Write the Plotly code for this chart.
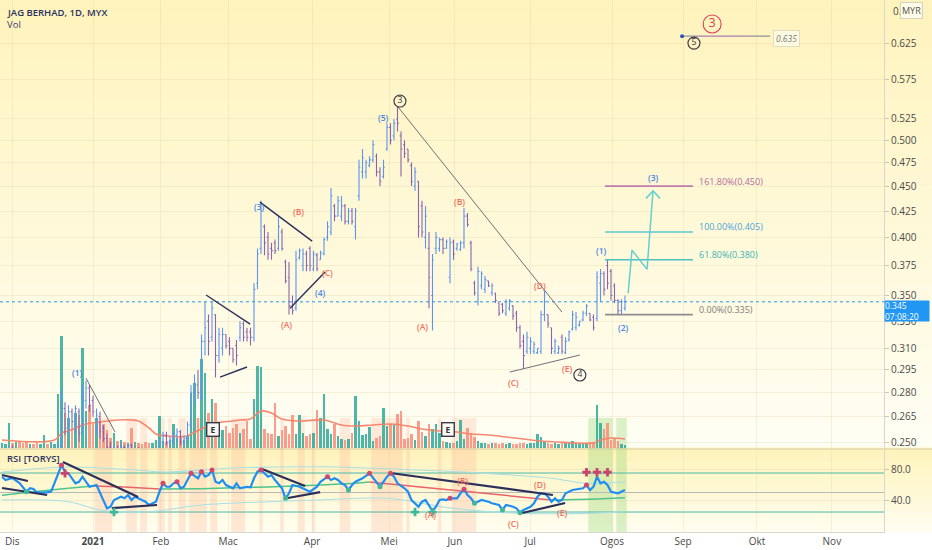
import math
import plotly.graph_objects as go

FONT = "Open Sans"

# ---------------- data ----------------
month_labels = ["Dis", "<b>2021</b>", "Feb", "Mac", "Apr", "Mei", "Jun", "Jul", "Ogos", "Sep", "Okt", "Nov"]
month_pos = [2.9, 26.0, 45.4, 64.6, 88.6, 110.6, 129.4, 150.9, 174.3, 194.6, 215.7, 237.1]
price_ticks = [0.250, 0.265, 0.280, 0.295, 0.310, 0.330, 0.350, 0.375, 0.400, 0.425,
               0.450, 0.475, 0.500, 0.525, 0.575, 0.625]
rsi_ticks = [40, 80]
rsi_tick_text = ["40.0", "80.0"]

bar_open = [
    .235, .238, .240, .245, .242, .243, .241, .238, .235, .238,
    .236, .234, .235, .238, .237, .238, .243, .248, .270, .258,
    .268, .260, .268, .260, .275, .283, .275, .258, .265, .258,
    .252, .247, .242, .246, .244, .247, .245, .248, .243, .246,
    .244, .243, .241, .239, .241, .243, .250, .254, .250, .251,
    .254, .256, .250, .252, .260, .280, .285, .282, .315, .330,
    .318, .335, .305, .310, .320, .315, .310, .312, .318, .328,
    .322, .322, .318, .360, .390, .410, .400, .390, .395, .390,
    .405, .378, .365, .345, .340, .382, .375, .385, .390, .372,
    .384, .380, .385, .400, .405, .430, .420, .420, .430, .415,
    .425, .410, .440, .465, .465, .472, .478, .482, .465, .460,
    .490, .515, .505, .525, .505, .495, .490, .472, .450, .455,
    .430, .400, .390, .350, .390, .390, .398, .390, .365, .396,
    .390, .389, .395, .420, .395, .360, .345, .358, .355, .362,
    .352, .352, .344, .343, .336, .340, .342, .336, .325, .315,
    .308, .310, .308, .307, .308, .335, .335, .325, .308, .307,
    .318, .307, .316, .324, .325, .327, .331, .336, .336, .333,
    .332, .360, .368, .375, .370, .358, .346, .338, .340]
bar_high = [
    .240, .242, .248, .248, .245, .246, .243, .240, .240, .240,
    .238, .237, .240, .240, .240, .245, .250, .282, .274, .272,
    .270, .272, .270, .285, .288, .285, .278, .270, .268, .260,
    .255, .250, .248, .248, .249, .248, .249, .249, .247, .247,
    .246, .245, .243, .242, .244, .252, .256, .256, .253, .256,
    .258, .257, .254, .262, .285, .292, .295, .320, .345, .335,
    .345, .335, .325, .325, .320, .318, .310, .316, .330, .330,
    .325, .325, .360, .390, .435, .412, .405, .395, .398, .420,
    .408, .380, .378, .350, .388, .390, .390, .388, .392, .388,
    .386, .388, .400, .415, .448, .432, .440, .440, .432, .428,
    .428, .428, .478, .490, .478, .482, .500, .485, .470, .478,
    .520, .520, .525, .540, .510, .500, .490, .475, .470, .455,
    .435, .430, .405, .385, .405, .400, .400, .398, .400, .398,
    .395, .397, .428, .423, .397, .362, .374, .370, .366, .362,
    .360, .352, .344, .344, .347, .347, .342, .338, .327, .320,
    .322, .318, .315, .310, .338, .355, .335, .325, .317, .312,
    .320, .318, .323, .338, .337, .330, .338, .343, .336, .335,
    .370, .372, .370, .380, .372, .360, .347, .347, .350]
bar_low = [
    .232, .235, .238, .240, .238, .240, .236, .233, .234, .235,
    .232, .232, .234, .235, .235, .237, .242, .245, .254, .255,
    .258, .255, .250, .255, .270, .268, .265, .254, .252, .250,
    .245, .240, .240, .242, .243, .243, .244, .242, .242, .243,
    .241, .240, .238, .238, .240, .242, .248, .248, .247, .249,
    .250, .248, .248, .250, .258, .272, .276, .275, .305, .305,
    .315, .290, .300, .305, .310, .305, .300, .298, .315, .315,
    .315, .312, .315, .355, .385, .384, .380, .380, .385, .388,
    .388, .360, .335, .335, .338, .380, .370, .370, .370, .370,
    .370, .380, .384, .397, .402, .415, .420, .415, .412, .412,
    .412, .398, .435, .458, .458, .470, .475, .460, .450, .458,
    .488, .495, .500, .510, .460, .480, .475, .450, .445, .400,
    .400, .390, .340, .323, .385, .387, .385, .390, .360, .380,
    .388, .388, .390, .410, .370, .350, .342, .355, .352, .357,
    .350, .344, .334, .336, .334, .338, .331, .322, .310, .296,
    .306, .306, .306, .306, .306, .330, .325, .306, .306, .306,
    .306, .306, .315, .323, .323, .326, .330, .334, .330, .323,
    .330, .345, .350, .355, .346, .344, .335, .335, .338]
bar_close = [
    .238, .240, .245, .242, .243, .241, .238, .235, .238, .236,
    .234, .235, .238, .237, .238, .243, .248, .268, .258, .268,
    .262, .270, .255, .280, .283, .272, .268, .266, .256, .252,
    .247, .242, .246, .244, .247, .245, .248, .243, .246, .244,
    .243, .241, .239, .241, .243, .250, .254, .250, .251, .254,
    .256, .250, .252, .260, .280, .285, .280, .315, .325, .315,
    .340, .305, .320, .320, .312, .310, .302, .305, .325, .318,
    .318, .318, .355, .385, .425, .395, .385, .388, .388, .410,
    .390, .362, .342, .338, .380, .388, .385, .375, .375, .385,
    .372, .386, .398, .410, .440, .420, .435, .430, .415, .425,
    .415, .425, .470, .480, .475, .478, .495, .465, .455, .470,
    .515, .500, .520, .520, .490, .485, .478, .455, .465, .410,
    .405, .420, .365, .380, .400, .398, .390, .396, .395, .385,
    .394, .395, .420, .412, .372, .352, .370, .368, .363, .358,
    .358, .346, .336, .338, .345, .346, .334, .325, .312, .305,
    .318, .315, .313, .310, .335, .345, .328, .310, .315, .310,
    .308, .315, .322, .335, .333, .330, .336, .342, .331, .325,
    .365, .368, .355, .360, .350, .346, .338, .345, .345]
# volume, millions of shares
volume_m = [
    0.5, 0.4, 2.5, 0.5, 0.6, 0.7, 0.5, 0.6, 0.4, 0.4,
    0.5, 0.4, 1.3, 0.4, 0.6, 0.4, 5.4, 11.2, 3.5, 3.0,
    2.0, 3.5, 3.3, 10.0, 3.7, 4.3, 2.4, 3.0, 2.7, 2.4,
    1.8, 1.0, 1.5, 0.7, 0.8, 0.6, 0.5, 2.0, 0.6, 0.5,
    0.4, 0.6, 0.5, 0.5, 0.8, 3.2, 0.7, 0.6, 0.8, 2.4,
    1.0, 1.2, 0.8, 1.2, 5.5, 6.5, 3.0, 8.9, 7.5, 3.5,
    4.9, 4.5, 2.5, 1.8, 2.2, 1.5, 2.0, 2.4, 1.5, 1.9,
    2.7, 0.9, 4.9, 8.2, 8.1, 1.9, 1.5, 1.4, 4.5, 1.2,
    1.8, 2.2, 1.4, 3.3, 1.4, 3.3, 1.5, 1.2, 1.4, 1.5,
    3.8, 3.0, 5.4, 1.9, 1.4, 2.4, 1.2, 0.9, 0.8, 0.9,
    1.5, 5.2, 2.7, 1.3, 1.4, 2.1, 0.7, 1.0, 1.2, 4.0,
    2.2, 2.4, 2.4, 3.4, 3.7, 0.9, 1.0, 1.4, 0.8, 2.7,
    1.6, 1.2, 2.4, 1.9, 2.4, 1.5, 0.7, 0.6, 0.5, 0.5,
    0.7, 2.8, 0.9, 2.0, 1.5, 1.1, 0.7, 0.5, 0.5, 0.4,
    0.5, 0.5, 0.4, 0.5, 0.4, 0.5, 0.4, 0.4, 0.5, 0.5,
    0.4, 0.5, 0.5, 1.4, 1.1, 0.6, 0.5, 0.4, 0.5, 0.4,
    0.5, 0.5, 0.6, 0.7, 0.5, 0.4, 0.5, 0.5, 0.6, 0.6,
    4.3, 2.5, 1.9, 2.5, 0.8, 1.0, 0.7, 0.4, 0.3]
vol_ma_idx = [0, 15, 17, 19, 24, 28, 33, 37, 39, 42, 44, 47, 53, 54, 57, 61, 66, 68, 71, 74,
              77, 80, 85, 92, 97, 101, 106, 111, 116, 120, 125, 130, 134, 139, 144, 149, 154,
              159, 164, 169, 171, 174, 178]
vol_ma_val = [0.8, 0.8, 1.5, 1.7, 2.4, 2.6, 2.8, 2.8, 2.7, 2.0, 1.4, 1.2, 1.2, 1.4, 1.9, 2.5,
              2.7, 2.8, 2.9, 3.7, 3.5, 2.9, 2.7, 2.8, 2.3, 2.2, 2.3, 2.4, 2.2, 1.9, 1.7, 1.6,
              1.4, 1.3, 1.1, 0.9, 0.7, 0.6, 0.5, 0.5, 0.8, 1.0, 0.9]
last_price = 0.345

rsi_idx = [0, 1, 3, 5, 7, 8, 9, 10, 12, 14, 15, 16, 17, 18, 19, 20, 21, 22, 23, 24, 25, 27, 28,
           29, 30, 31, 32, 34, 35, 36, 37, 38, 39, 41, 42, 43, 44, 45, 46, 47, 48, 49, 50, 51,
           52, 53, 54, 56, 57, 58, 59, 60, 61, 62, 63, 64, 65, 66, 67, 68, 70, 71, 72, 73, 74,
           75, 76, 77, 78, 80, 81, 82, 83, 85, 86, 87, 88, 90, 91, 93, 94, 95, 96, 97, 98, 99,
           100, 101, 103, 105, 107, 108, 109, 110, 111, 112, 113, 115, 116, 117, 119, 120, 121,
           122, 123, 124, 125, 126, 127, 128, 130, 131, 132, 133, 134, 135, 136, 137, 139, 140,
           142, 143, 144, 146, 147, 148, 149, 151, 152, 153, 154, 155, 156, 157, 158, 159, 160,
           161, 163, 164, 166, 167, 168, 169, 170, 171, 172, 173, 174, 176, 177, 178]
rsi_val = [70.3, 66, 68.6, 62, 51, 55.6, 54.5, 49.8, 49.8, 51, 62, 74.6, 85, 76.7, 74.6, 68,
           61.8, 63.8, 70.3, 63.8, 57.4, 59.6, 49, 38.2, 29.7, 31.8, 40.4, 44.6, 42.6, 46.8,
           40.4, 44.6, 42.6, 38.2, 34, 36.2, 38.2, 51, 61.8, 57.4, 57.4, 61.8, 63.8, 55.4, 57.4,
           66, 74.6, 68.2, 76.7, 70.3, 72.4, 78.8, 63.8, 61.8, 66, 59.6, 57.4, 55.4, 61.8, 55.4,
           57.4, 56.7, 68.2, 76.7, 78.8, 74.6, 70.3, 72.4, 66, 55.4, 42.6, 49, 59.6, 57.4, 55.4,
           53.2, 51, 57.4, 63.8, 70.3, 66, 68.2, 66, 61.8, 59.6, 53.2, 59.6, 63.8, 68.2, 74.6,
           63.8, 57.4, 63.8, 70.3, 74.6, 70.3, 61.8, 55.4, 51, 40.4, 31.8, 38.2, 40.4, 34, 26.3,
           31.8, 40.4, 41.2, 40.4, 42.6, 42.6, 49, 54.1, 46.8, 42.6, 36.2, 38.2, 40.4, 38.2, 36.2,
           34, 27.6, 34, 31.8, 29.7, 24.1, 27.6, 31.8, 36.2, 44.6, 49, 49, 44.6, 38.2, 42.6, 38.2,
           40.4, 49, 53.2, 54.1, 55.4, 59.6, 53.2, 57.4, 70.3, 61.8, 63.8, 59.6, 51, 49, 51, 53.2]
rsi_ma_idx = [0, 9, 19, 26, 35, 45, 57, 66, 76, 91, 101, 105, 129, 157, 168, 178]
rsi_ma_val = [46.5, 51, 55.5, 58.3, 57, 54.5, 54.8, 56, 57, 59.6, 62, 63.5, 53, 40.4, 41.5, 43.3]
rsi_up_idx = [0, 19, 38, 47, 66, 91, 119, 138, 157, 167, 178]
rsi_up_val = [76.3, 82.7, 78.8, 76.3, 81.4, 83.0, 78.8, 74.6, 68.2, 61.8, 63.8]
rsi_lo_idx = [0, 19, 28, 42, 57, 76, 91, 110, 129, 148, 167, 178]
rsi_lo_val = [40.4, 38.2, 27.6, 25.4, 34.0, 38.2, 40.4, 42.6, 29.7, 23.3, 23.3, 25.4]
rsi_peak_idx = [17, 46, 50, 54, 57, 60, 74, 93, 105, 111, 128, 132, 167]
rsi_trough_idx = [7, 81, 99, 108, 135, 143, 148]
rsi_buy_idx = [32, 118, 123]
rsi_sell_idx = [18, 167, 170, 173]
rsi_sell_val = [74.6, 76, 76, 76]
shade_pink = [(27, 28), (29, 31), (36, 38), (40, 41), (45, 46), (48, 48), (51, 52), (54, 56),
              (57, 58), (60, 61), (66, 67), (68, 69), (74, 74), (80, 80), (85, 86), (89, 89),
              (97, 99), (106, 110), (111, 114), (116, 116), (125, 125), (129, 131), (132, 135)]
shade_green = [(168, 174), (176, 178)]

fib_levels = [0.450, 0.405, 0.380, 0.335]
fib_names = ["161.80%(0.450)", "100.00%(0.405)", "61.80%(0.380)", "0.00%(0.335)"]

# drawing tools (bar index, price)
navy_lines = [((58.3, 0.3504), (70.9, 0.3278)), ((62.3, 0.2902), (70.0, 0.2970)),
              ((73.7, 0.4338), (88.6, 0.3966)), ((82.3, 0.3400), (92.3, 0.3694))]
grey_lines = [((24.0, 0.2895), (32.3, 0.2558)), ((113.0, 0.5405), (160.0, 0.3369)),
              ((145.1, 0.2936), (165.1, 0.3053))]
proj_x = [178.9, 180.0, 184.3, 186.0]
proj_y = [0.3518, 0.3885, 0.3717, 0.4452]
arrow_x = [184.0, 186.0, 188.0]
arrow_y = [0.4375, 0.4452, 0.4375]
rsi_trend = [((0, 72.4), (7.4, 64.7)), ((0, 55.8), (12.9, 46.8)), ((17.4, 89.1), (38.9, 44.2)),
             ((31.4, 30.1), (44.3, 34.0)), ((74.3, 80.1), (86.6, 58.3)), ((81.7, 43.0), (90.9, 50.6)),
             ((110.9, 75.0), (157.4, 46.8)), ((148.6, 23.7), (160.9, 36.5))]
BLUE_W = "#4a86e8"
RED_W = "#f0705f"
wave_labels = [(21.7, 0.2936, "(1)", BLUE_W), (73.7, 0.4298, "(3)", BLUE_W), (90.9, 0.3528, "(4)", BLUE_W),
               (108.9, 0.5273, "(5)", BLUE_W), (81.4, 0.3278, "(A)", RED_W), (84.6, 0.4249, "(B)", RED_W),
               (92.9, 0.3694, "(C)", RED_W), (120.0, 0.3263, "(A)", RED_W), (130.6, 0.4348, "(B)", RED_W),
               (146.0, 0.2869, "(C)", RED_W), (153.7, 0.3585, "(D)", RED_W), (161.4, 0.2963, "(E)", RED_W),
               (171.4, 0.3885, "(1)", BLUE_W), (177.7, 0.3255, "(2)", BLUE_W), (186.0, 0.4595, "(3)", BLUE_W)]
rsi_labels = [(122.3, 21.2, "(A)"), (131.7, 66.0, "(B)"), (146.0, 10.9, "(C)"), (153.7, 60.9, "(D)"),
              (160.0, 25.0, "(E)")]
circle_labels = [(113.7, 0.5471, "3"), (165.1, 0.2916, "4"), (197.7, 0.625, "5")]

# ---------------- layout geometry ----------------
PLOT_W, PLOT_H = 884, 532


def py(px):
    return (PLOT_H - px) / PLOT_H


x_range = [-0.571, 252.0]
price_range = [math.log10(0.2466), math.log10(0.690)]
idx = list(range(len(bar_open)))

fig = go.Figure()

# volume (base axis of price pane)
vol_colors = ["rgba(45,170,150,0.85)" if c >= o else "rgba(250,140,120,0.85)"
              for o, c in zip(bar_open, bar_close)]
fig.add_trace(go.Bar(x=idx, y=volume_m, marker=dict(color=vol_colors, line=dict(width=0)),
                     width=0.72, xaxis="x", yaxis="y", hoverinfo="skip"))
fig.add_trace(go.Scatter(x=vol_ma_idx, y=vol_ma_val, mode="lines", xaxis="x", yaxis="y",
                         line=dict(color="rgba(247,130,105,0.95)", width=1.6, shape="spline"),
                         hoverinfo="skip"))

# price bars
fig.add_trace(go.Ohlc(x=idx, open=bar_open, high=bar_high, low=bar_low, close=bar_close,
                      xaxis="x", yaxis="y3", tickwidth=0.38,
                      increasing=dict(line=dict(color="#5b95ee", width=1.1)),
                      decreasing=dict(line=dict(color="#8a64ae", width=1.1)),
                      hoverinfo="skip"))

# current price line
fig.add_trace(go.Scatter(x=x_range, y=[last_price, last_price], mode="lines", xaxis="x", yaxis="y3",
                         line=dict(color="#2196f3", width=1, dash="dot"), hoverinfo="skip"))


def seg(p, q, color, width, ax="y3", dash=None):
    fig.add_trace(go.Scatter(x=[p[0], q[0]], y=[p[1], q[1]], mode="lines", xaxis="x" if ax == "y3" else "x2",
                             yaxis=ax, line=dict(color=color, width=width, dash=dash), hoverinfo="skip"))


for p, q in navy_lines:
    seg(p, q, "#2b2f5c", 1.4)
for p, q in grey_lines:
    seg(p, q, "#6f6f78", 1.0)

# fib levels
fib_line_colors = ["#c07cae", "#5cc6cf", "#4fbfbf", "#8d8d8d"]
fib_text_colors = ["#b36aa0", "#4aa3d8", "#39b3b3", "#7d7d7d"]
for lev, col in zip(fib_levels, fib_line_colors):
    seg((172.3, lev), (197.4, lev), col, 1.6)

# projection path
fig.add_trace(go.Scatter(x=proj_x, y=proj_y, mode="lines", xaxis="x", yaxis="y3",
                         line=dict(color="#63d0d0", width=1.5), hoverinfo="skip"))
fig.add_trace(go.Scatter(x=arrow_x, y=arrow_y, mode="lines", xaxis="x", yaxis="y3",
                         line=dict(color="#63d0d0", width=1.5), hoverinfo="skip"))

# top wave (5) line
seg((194.3, 0.635), (219.5, 0.635), "#8f8f98", 1.2)
seg((198.6, 0.6345), (213.0, 0.6345), "#c993bf", 1.2)
fig.add_trace(go.Scatter(x=[194.3], y=[0.635], mode="markers", xaxis="x", yaxis="y3",
                         marker=dict(color="#3050c0", size=4), hoverinfo="skip"))

# circled wave labels
for cx, cp, t in circle_labels:
    fig.add_trace(go.Scatter(x=[cx], y=[cp], mode="markers+text", xaxis="x", yaxis="y3", text=[t],
                             textposition="middle center",
                             textfont=dict(family=FONT, size=8.5, color="#333344"),
                             marker=dict(symbol="circle", size=12, color="rgba(255,255,255,0)",
                                         line=dict(color="#333344", width=1.1)), hoverinfo="skip"))
fig.add_trace(go.Scatter(x=[202.9], y=[0.6529], mode="markers+text", xaxis="x", yaxis="y3", text=["3"],
                         textposition="middle center",
                         textfont=dict(family=FONT, size=12.5, color="#d8415f"),
                         marker=dict(symbol="circle", size=18, color="rgba(255,255,255,0)",
                                     line=dict(color="#d8415f", width=1.1)), hoverinfo="skip"))

# ---------------- RSI pane ----------------
for lvl, col in [(75, "#49b9ad"), (25, "#49b9ad"), (50, "#b9b9b9")]:
    seg((x_range[0], lvl), (x_range[1], lvl), col, 1.0, ax="y2")
fig.add_trace(go.Scatter(x=rsi_up_idx, y=rsi_up_val, mode="lines", xaxis="x2", yaxis="y2",
                         line=dict(color="#a9dfe6", width=1.1, shape="spline"), hoverinfo="skip"))
fig.add_trace(go.Scatter(x=rsi_lo_idx, y=rsi_lo_val, mode="lines", xaxis="x2", yaxis="y2",
                         line=dict(color="#a9dfe6", width=1.1, shape="spline"), hoverinfo="skip"))
gx, gy, rx, ry = [], [], [], []
for k in range(len(rsi_ma_idx) - 1):
    xs = [rsi_ma_idx[k], rsi_ma_idx[k + 1], None]
    ys = [rsi_ma_val[k], rsi_ma_val[k + 1], None]
    if rsi_ma_val[k + 1] < rsi_ma_val[k]:
        rx += xs
        ry += ys
    else:
        gx += xs
        gy += ys
fig.add_trace(go.Scatter(x=gx, y=gy, mode="lines", xaxis="x2", yaxis="y2",
                         line=dict(color="#4cc48a", width=1.5), hoverinfo="skip"))
fig.add_trace(go.Scatter(x=rx, y=ry, mode="lines", xaxis="x2", yaxis="y2",
                         line=dict(color="#e8636b", width=1.5), hoverinfo="skip"))
fig.add_trace(go.Scatter(x=rsi_idx, y=rsi_val, mode="lines", xaxis="x2", yaxis="y2",
                         line=dict(color="#1e8ff0", width=2.2), hoverinfo="skip"))
for p, q in rsi_trend:
    seg(p, q, "#2b2f5c", 2.2, ax="y2")
rsi_map = dict(zip(rsi_idx, rsi_val))
fig.add_trace(go.Scatter(x=rsi_peak_idx, y=[rsi_map[i] for i in rsi_peak_idx], mode="markers",
                         xaxis="x2", yaxis="y2", marker=dict(color="#d2476e", size=5), hoverinfo="skip"))
fig.add_trace(go.Scatter(x=rsi_trough_idx, y=[rsi_map[i] for i in rsi_trough_idx], mode="markers",
                         xaxis="x2", yaxis="y2", marker=dict(color="#3fb89a", size=5), hoverinfo="skip"))
fig.add_trace(go.Scatter(x=rsi_buy_idx, y=[25] * len(rsi_buy_idx), mode="markers", xaxis="x2", yaxis="y2",
                         marker=dict(symbol="cross", color="#3fb89a", size=7, line=dict(width=0)),
                         hoverinfo="skip"))
fig.add_trace(go.Scatter(x=rsi_sell_idx, y=rsi_sell_val, mode="markers", xaxis="x2", yaxis="y2",
                         marker=dict(symbol="cross", color="#c8456e", size=7, line=dict(width=0)),
                         hoverinfo="skip"))

# ---------------- shapes (backgrounds) ----------------
shapes = []


def lerp(a, b, t):
    return tuple(round(a[j] + (b[j] - a[j]) * t) for j in range(3))


N = 36
top_c, bot_c = (255, 243, 188), (255, 254, 244)
for k in range(N):
    p0, p1 = 448 * k / N, 448 * (k + 1) / N
    c = lerp(top_c, bot_c, (k + 0.5) / N)
    shapes.append(dict(type="rect", xref="paper", yref="paper", x0=-0.01, x1=1.07, y0=py(p1), y1=py(p0) + 0.001,
                       fillcolor="rgb(%d,%d,%d)" % c, line=dict(width=0), layer="below"))
M = 12
top_r, bot_r = (255, 243, 186), (255, 253, 240)
for k in range(M):
    p0, p1 = 448 + 84 * k / M, 448 + 84 * (k + 1) / M
    c = lerp(top_r, bot_r, (k + 0.5) / M)
    shapes.append(dict(type="rect", xref="paper", yref="paper", x0=-0.01, x1=1.07, y0=py(p1), y1=py(p0) + 0.001,
                       fillcolor="rgb(%d,%d,%d)" % c, line=dict(width=0), layer="below"))
for a, b in shade_pink:
    shapes.append(dict(type="rect", xref="x2", yref="paper", x0=a - 0.5, x1=b + 0.5, y0=0, y1=py(418),
                       fillcolor="rgba(255,178,150,0.28)", line=dict(width=0), layer="below"))
for a, b in shade_green:
    shapes.append(dict(type="rect", xref="x2", yref="paper", x0=a - 0.5, x1=b + 0.5, y0=0, y1=py(418),
                       fillcolor="rgba(150,215,120,0.35)", line=dict(width=0), layer="below"))
shapes.append(dict(type="line", xref="paper", yref="paper", x0=0, x1=1.07, y0=py(449), y1=py(449),
                   line=dict(color="rgba(190,185,160,0.7)", width=1)))

# ---------------- annotations ----------------
ann = []
ann.append(dict(xref="paper", yref="paper", x=0.006, y=py(12), xanchor="left", yanchor="middle",
                text="JAG BERHAD, 1D, MYX", showarrow=False,
                font=dict(family=FONT, size=9.5, color="#2b3160", weight=600)))
ann.append(dict(xref="paper", yref="paper", x=0.006, y=py(24.5), xanchor="left", yanchor="middle",
                text="Vol", showarrow=False, font=dict(family=FONT, size=9.5, color="#3c4070")))
ann.append(dict(xref="paper", yref="paper", x=0.006, y=py(458), xanchor="left", yanchor="middle",
                text="RSI [TORYS]", showarrow=False,
                font=dict(family=FONT, size=9.5, color="#2b3160", weight=600)))
for wx, wp, t, col in wave_labels:
    ann.append(dict(xref="x", yref="y3", x=wx, y=math.log10(wp), text=t, showarrow=False,
                    font=dict(family=FONT, size=8.5, color=col, weight=600)))
for rx_, rv, t in rsi_labels:
    ann.append(dict(xref="x2", yref="y2", x=rx_, y=rv, text=t, showarrow=False,
                    font=dict(family=FONT, size=8.5, color=RED_W, weight=600)))
for lev, name, col in zip(fib_levels, fib_names, fib_text_colors):
    ann.append(dict(xref="x", yref="y3", x=198.6, y=math.log10(lev), xanchor="left", yanchor="middle",
                    yshift=5, text=name, showarrow=False, font=dict(family=FONT, size=9, color=col)))
ann.append(dict(xref="x", yref="y3", x=224.2, y=math.log10(0.632), text="<i>0.635</i>", showarrow=False,
                font=dict(family=FONT, size=8.5, color="#777777"), bordercolor="#e2dcc0", borderwidth=1,
                borderpad=2, bgcolor="rgba(255,255,250,0.6)"))
for ex in [60.3, 127.4]:
    ann.append(dict(xref="x", yref="paper", x=ex, y=py(437), text="E", showarrow=False,
                    font=dict(family=FONT, size=8.5, color="#333340", weight=700),
                    bgcolor="#fbfaf2", bordercolor="#3a3a4c", borderwidth=1.4, borderpad=1, width=9, height=10))
ann.append(dict(xref="paper", yref="y3", x=1.0, y=math.log10(0.3468), xanchor="left", yanchor="top",
                text="0.345<br>07:08:20", showarrow=False, align="left",
                font=dict(family=FONT, size=8.5, color="#ffffff"), bgcolor="#2196f3", borderpad=0,
                width=44, height=20))
ann.append(dict(xref="paper", yref="paper", x=1.008, y=py(11), xanchor="left", yanchor="middle",
                text="0.", showarrow=False, font=dict(family=FONT, size=10, color="#4a4a4a")))
ann.append(dict(xref="paper", yref="paper", x=1.031, y=py(10), xanchor="center", yanchor="middle",
                text="MYR", showarrow=False, font=dict(family=FONT, size=9, color="#555555"),
                bordercolor="#d6d2bf", borderwidth=1, borderpad=1, bgcolor="rgba(255,255,250,0.7)"))

grid_c = "rgba(205,195,150,0.22)"
fig.update_layout(
    width=932, height=550, margin=dict(l=0, r=48, t=0, b=18),
    paper_bgcolor="#ffffff", plot_bgcolor="rgba(0,0,0,0)", showlegend=False,
    font=dict(family=FONT, size=10, color="#4a4a4a"),
    shapes=shapes, annotations=ann, bargap=0,
    xaxis=dict(domain=[0, 1], anchor="y", range=x_range, tickvals=month_pos, showticklabels=False,
               showgrid=True, gridcolor=grid_c, zeroline=False, rangeslider=dict(visible=False),
               fixedrange=True),
    xaxis2=dict(domain=[0, 1], anchor="y2", range=x_range, matches="x", tickvals=month_pos,
                ticktext=month_labels, showgrid=True, gridcolor=grid_c, zeroline=False, ticks="",
                showline=True, linecolor="#d9d6cc", tickfont=dict(size=10, color="#4a4a4a"),
                rangeslider=dict(visible=False)),
    yaxis=dict(domain=[py(448), 1], anchor="x", range=[0, 44.8], visible=False, fixedrange=True),
    yaxis3=dict(overlaying="y", anchor="x", side="right", type="log", range=price_range,
                tickvals=price_ticks, ticktext=["%.3f" % v for v in price_ticks], showgrid=True,
                gridcolor=grid_c, zeroline=False, ticks="outside", ticklen=4, tickcolor="#c9c6b8",
                showline=True, linecolor="#d9d6cc", tickfont=dict(size=10, color="#4a4a4a")),
    yaxis2=dict(domain=[0, py(450)], anchor="x2", side="right", range=[-0.6, 104.5], tickvals=rsi_ticks,
                ticktext=rsi_tick_text, showgrid=True, gridcolor=grid_c, zeroline=False, ticks="outside",
                ticklen=4, tickcolor="#c9c6b8", showline=True, linecolor="#d9d6cc",
                tickfont=dict(size=10, color="#4a4a4a")),
)

fig.write_html("out.html", config={"displayModeBar": False},
               post_script="document.body.style.margin='0px';document.body.style.overflow='hidden';")
